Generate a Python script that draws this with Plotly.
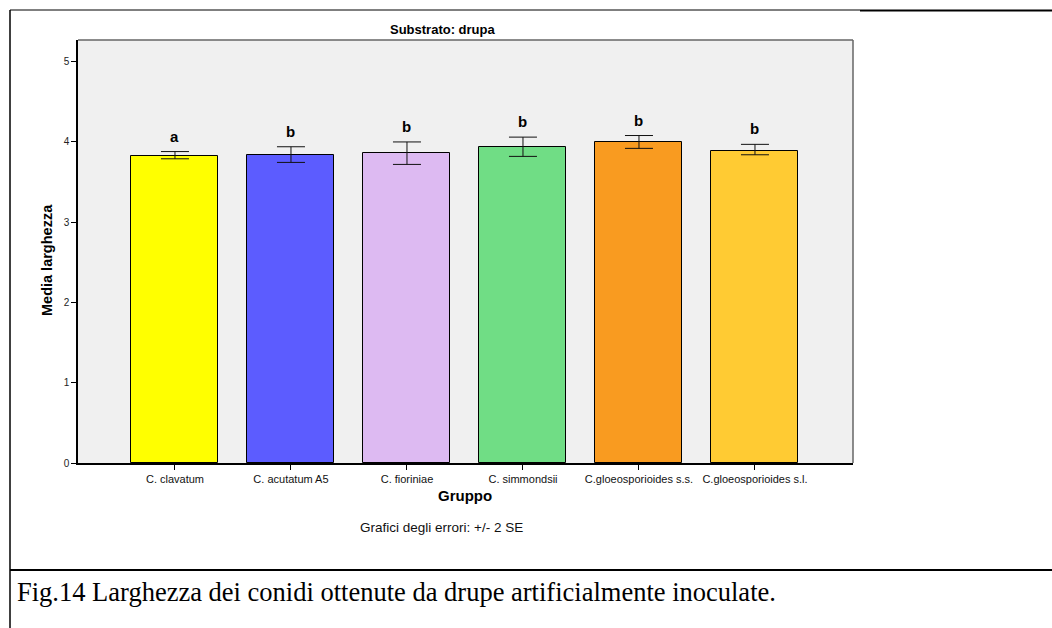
import plotly.graph_objects as go

# Mean conidia width per group, with +/- 2 SE error limits
groups = ["C. clavatum", "C. acutatum A5", "C. fioriniae", "C. simmondsii",
          "C.gloeosporioides s.s.", "C.gloeosporioides s.l."]
means = [3.83, 3.84, 3.86, 3.94, 4.00, 3.89]
upper = [3.88, 3.94, 4.00, 4.06, 4.08, 3.97]
lower = [3.79, 3.745, 3.72, 3.82, 3.92, 3.84]
letters = ["a", "b", "b", "b", "b", "b"]
colors = ["#FFFF00", "#5C5CFF", "#DDBAF2", "#70DD85", "#F99B20", "#FFCB33"]

err_plus = [u - m for u, m in zip(upper, means)]
err_minus = [m - l for m, l in zip(means, lower)]

W, H = 1052, 628
L, R, T, B = 78, 853, 40, 463

fig = go.Figure()
fig.add_trace(go.Bar(
    x=groups, y=means, width=0.75,
    marker=dict(color=colors, line=dict(color="#000000", width=1)),
    error_y=dict(type="data", symmetric=False, array=err_plus, arrayminus=err_minus,
                 color="#111111", thickness=1, width=14),
    hoverinfo="skip",
))

fig.update_layout(
    width=W, height=H,
    margin=dict(l=L, r=W - R, t=T, b=H - B, pad=0),
    paper_bgcolor="#FFFFFF", plot_bgcolor="#F0F0F0",
    showlegend=False, bargap=0,
    font=dict(family="Liberation Sans, Arial", color="#000000"),
    xaxis=dict(
        type="category", range=[-0.836, 5.845], showgrid=False, zeroline=False,
        showline=True, linecolor="#000000", linewidth=1.5,
        ticks="outside", ticklen=5, tickcolor="#000000", tickwidth=1,
        tickfont=dict(size=11, color="#111111"), fixedrange=True,
    ),
    yaxis=dict(
        range=[0, 5.27], tickvals=[0, 1, 2, 3, 4, 5], showgrid=False, zeroline=False,
        showline=True, linecolor="#000000", linewidth=1.5,
        ticks="outside", ticklen=5, tickcolor="#000000", tickwidth=1,
        tickfont=dict(size=10, color="#222222"), fixedrange=True,
    ),
)

# significance letters above each error bar
for g, u, t in zip(groups, upper, letters):
    fig.add_annotation(x=g, y=u, text="<b>%s</b>" % t, showarrow=False,
                       yanchor="bottom", yshift=5,
                       font=dict(size=15, color="#000000"))

# plot frame (top and right edges)
fig.add_shape(type="line", xref="paper", yref="paper", x0=0, x1=1, y0=1, y1=1,
              line=dict(color="#666666", width=1.5))
fig.add_shape(type="line", xref="paper", yref="paper", x0=1, x1=1, y0=0, y1=1,
              line=dict(color="#666666", width=1.5))

def px_x(px):
    return (px - L) / (R - L)

def px_y(py):
    return (B - py) / (B - T)

# page frame and caption box
fig.add_shape(type="line", xref="paper", yref="paper",
              x0=px_x(10), x1=px_x(10), y0=px_y(10), y1=px_y(640),
              line=dict(color="#000000", width=1.5))
fig.add_shape(type="line", xref="paper", yref="paper",
              x0=px_x(10), x1=px_x(860), y0=px_y(10), y1=px_y(10),
              line=dict(color="#000000", width=1))
fig.add_shape(type="line", xref="paper", yref="paper",
              x0=px_x(860), x1=px_x(1060), y0=px_y(10.5), y1=px_y(10.5),
              line=dict(color="#000000", width=2))
fig.add_shape(type="line", xref="paper", yref="paper",
              x0=px_x(10), x1=px_x(1060), y0=px_y(570), y1=px_y(570),
              line=dict(color="#000000", width=2))

annotations = [
    dict(text="<b>Substrato: drupa</b>", x=px_x(442), y=px_y(30), font=dict(size=13)),
    dict(text="<b>Gruppo</b>", x=px_x(465), y=px_y(495), font=dict(size=15)),
    dict(text="Grafici degli errori: +/- 2 SE", x=px_x(441), y=px_y(527),
         font=dict(size=13.5, color="#111111")),
    dict(text="<b>Media larghezza</b>", x=px_x(47), y=px_y(260), textangle=-90,
         font=dict(size=14.5)),
    dict(text="Fig.14 Larghezza dei conidi ottenute da drupe artificialmente inoculate.",
         x=px_x(15), y=px_y(592), xanchor="left",
         font=dict(family="Liberation Serif, Times New Roman", size=26.5)),
]
for a in annotations:
    a.setdefault("xanchor", "center")
    fig.add_annotation(xref="paper", yref="paper", yanchor="middle", showarrow=False, **a)

fig.write_html("out.html")
